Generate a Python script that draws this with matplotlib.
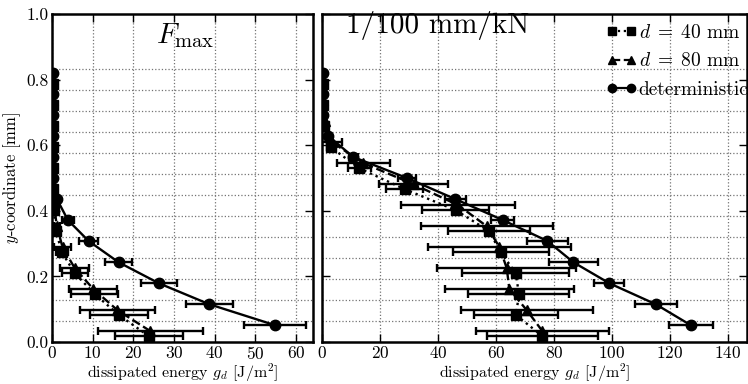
import matplotlib
matplotlib.use("Agg")
import matplotlib.pyplot as plt
from matplotlib.lines import Line2D

plt.rcParams["font.family"] = "serif"
plt.rcParams["font.serif"] = ["cmr10", "DejaVu Serif"]
plt.rcParams["mathtext.fontset"] = "cm"
plt.rcParams["axes.unicode_minus"] = False
plt.rcParams["axes.formatter.use_mathtext"] = True

# y positions of the element values [mm]
y_det = [0.051, 0.115, 0.179, 0.243, 0.308, 0.372, 0.436, 0.500, 0.564, 0.628, 0.692, 0.756, 0.820]
y_d40 = [0.018, 0.082, 0.146, 0.210, 0.274, 0.338, 0.402, 0.466, 0.530, 0.594, 0.658, 0.722, 0.786]
y_d80 = [0.033, 0.097, 0.161, 0.225, 0.289, 0.353, 0.417, 0.481, 0.545, 0.609, 0.673, 0.737, 0.801]

# element boundaries (horizontal grid)
y_grid = [0.064, 0.128, 0.192, 0.256, 0.321, 0.385, 0.449, 0.513, 0.577, 0.641, 0.705, 0.769, 0.833]

# left panel: F_max
fmax_det = [54.9, 38.7, 26.3, 16.4, 9.0, 3.9, 1.2, 0.3, 0.2, 0.2, 0.2, 0.2, 0.2]
fmax_det_err = [7.6, 5.8, 4.5, 3.3, 2.3, 1.4, 0.4, 0.1, 0.1, 0.1, 0.1, 0.1, 0.1]
fmax_d40 = [23.8, 16.5, 10.5, 5.6, 2.4, 1.0, 0.4, 0.2, 0.2, 0.2, 0.2, 0.2, 0.2]
fmax_d40_err = [8.3, 7.1, 5.8, 3.2, 1.5, 0.6, 0.3, 0.1, 0.1, 0.1, 0.1, 0.1, 0.1]
fmax_d80 = [24.2, 16.1, 10.2, 5.6, 2.6, 1.2, 0.5, 0.2, 0.2, 0.2, 0.2, 0.2, 0.2]
fmax_d80_err = [13.0, 9.2, 5.9, 3.6, 2.1, 0.8, 0.4, 0.1, 0.1, 0.1, 0.1, 0.1, 0.1]

# right panel: 1/100 mm/kN
k100_det = [127.2, 115.1, 99.1, 86.7, 77.7, 62.3, 45.9, 29.3, 10.8, 2.2, 0.5, 0.3, 0.3]
k100_det_err = [7.5, 7.3, 5.2, 8.3, 7.1, 4.0, 3.6, 3.0, 1.5, 0.8, 0.2, 0.1, 0.1]
k100_d40 = [76.0, 66.9, 67.9, 66.8, 61.6, 57.6, 46.1, 28.5, 12.8, 3.0, 0.8, 0.3, 0.3]
k100_d40_err = [19.0, 14.6, 17.4, 18.4, 16.6, 14.0, 11.6, 6.4, 4.0, 1.2, 0.3, 0.1, 0.1]
k100_d80 = [76.0, 70.6, 64.6, 63.7, 61.2, 56.8, 47.0, 31.6, 14.3, 3.5, 0.9, 0.3, 0.3]
k100_d80_err = [22.8, 22.8, 22.2, 24.0, 24.6, 22.8, 19.6, 12.0, 9.0, 3.4, 0.5, 0.1, 0.1]

labels = ["$d\\;=\\;40$ mm", "$d\\;=\\;80$ mm", "deterministic"]


def draw_panel(ax, det, det_err, d40, d40_err, d80, d80_err, xmax, xticks):

    kw = dict(color="k", ecolor="k", elinewidth=1.7, capsize=3, capthick=1.7, lw=1.7)
    ax.errorbar(d40, y_d40, xerr=d40_err, fmt="s", ls=":", ms=7, **kw)
    ax.errorbar(d80, y_d80, xerr=d80_err, fmt="^", ls="--", ms=7, **kw)
    ax.errorbar(det, y_det, xerr=det_err, fmt="o", ls="-", ms=7.5, **kw)

    ax.set_xlim(0, xmax)
    ax.set_ylim(0, 1)
    ax.set_xticks(xticks)
    ax.set_yticks([0.0, 0.2, 0.4, 0.6, 0.8, 1.0])
    ax.set_yticks(y_grid, minor=True)

    ax.tick_params(which="major", direction="in", length=6, width=1,
                   top=True, right=True, labelsize=12.5, pad=2.5)
    ax.tick_params(which="minor", length=0)
    ax.grid(False)
    ax.xaxis.grid(True, which="major", ls=":", color="0.45", lw=0.9)
    ax.yaxis.grid(True, which="minor", ls=":", color="0.45", lw=0.9)
    for s in ax.spines.values():
        s.set_linewidth(1.8)

    ax.set_xlabel("dissipated energy $g_d$ [J/m$^2$]", fontsize=11.5)
    ax.xaxis.set_label_coords(0.5, -0.06)


fig = plt.figure(figsize=(7.48, 3.84), dpi=100, facecolor="white")
ax1 = fig.add_axes([0.0695, 0.1094, 0.349, 0.854])
ax2 = fig.add_axes([0.4305, 0.1094, 0.568, 0.854])

draw_panel(ax1, fmax_det, fmax_det_err, fmax_d40, fmax_d40_err, fmax_d80, fmax_d80_err,
           64.2, [0, 10, 20, 30, 40, 50, 60])
draw_panel(ax2, k100_det, k100_det_err, k100_d40, k100_d40_err, k100_d80, k100_d80_err,
           146.5, [0, 20, 40, 60, 80, 100, 120, 140])

ax1.text(0.51, 0.912, r"$F_{\max}$", transform=ax1.transAxes, ha="center", va="baseline", fontsize=21)
ax2.text(0.273, 0.942, "1/100 mm/kN", transform=ax2.transAxes, ha="center", va="baseline", fontsize=21)

ax1.yaxis.set_major_formatter(matplotlib.ticker.FormatStrFormatter("%.1f"))
ax1.set_ylabel("$y$-coordinate [mm]", fontsize=12, labelpad=2)
ax2.set_yticklabels([])

handles = [
    Line2D([], [], color="k", marker="s", ls=":", ms=6, lw=1.6),
    Line2D([], [], color="k", marker="^", ls="--", ms=6, lw=1.6),
    Line2D([], [], color="k", marker="o", ls="-", ms=6, lw=1.6),
]
ax2.legend(handles, labels, loc="upper left", bbox_to_anchor=(0.645, 1.0), frameon=False,
           fontsize=14, numpoints=2, handlelength=1.6, handletextpad=0.1,
           labelspacing=0.55, borderaxespad=0.2, borderpad=0.3)

fig.savefig("out.png", dpi=100, facecolor="white")
